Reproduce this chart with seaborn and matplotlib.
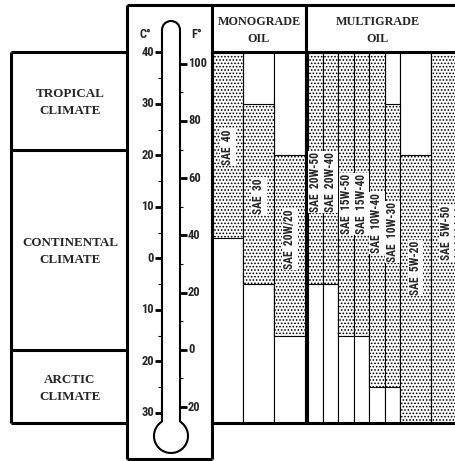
import matplotlib
matplotlib.use("Agg")
import matplotlib.pyplot as plt
import numpy as np
import seaborn as sns
from matplotlib import font_manager
from matplotlib.patches import Arc, Rectangle

# oil grades and their usable ambient temperature range (deg C)
oils = ['SAE  40', 'SAE  30', 'SAE  20W/20',
        'SAE  20W-50', 'SAE  20W-40', 'SAE  15W-50', 'SAE  15W-40',
        'SAE  10W-40', 'SAE  10W-30', 'SAE  5W-20', 'SAE  5W-50']
t_max = [40, 30, 20, 40, 40, 40, 40, 40, 30, 20, 40]
t_min = [4, -5, -15, -5, -5, -15, -15, -25, -25, -32, -32]
groups = ['MONOGRADE\nOIL', 'MULTIGRADE\nOIL']
n_mono = 3

climates = ['TROPICAL\nCLIMATE', 'CONTINENTAL\nCLIMATE', 'ARCTIC\nCLIMATE']
climate_edges = [40, 21.1, -17.8, -32]

c_major = [40, 30, 20, 10, 0, -10, -20, -30]
c_minor = [35, 25, 15, 5, -5, -15, -25]
f_major = [100, 80, 60, 40, 20, 0, -20]
f_minor = [90, 70, 50, 30, 10, -10]

# layout (pixels)
W, H = 456, 461
Y0, K = 258.3, 5.15          # pixel row of 0 C, pixels per degree C
widths = [31, 31, 31, 15.4, 15.4, 15.4, 15.4, 15.4, 15.4, 31, 31]
label_at = [21.6, 12.1, 3.7, 14.8, 14.8, 10.5, 10.5, 6.9, 5.1, -1.9, 4.9]
mono_x0, multi_x0 = 212.5, 307.7


def first_font(names):
    for name in names:
        try:
            font_manager.findfont(font_manager.FontProperties(family=name),
                                  fallback_to_default=False)
            return name
        except ValueError:
            pass
    return 'DejaVu Sans'


sns.set_theme(style='white')
plt.rcParams['hatch.linewidth'] = 0.75
narrow = first_font(['Liberation Sans Narrow', 'DejaVu Sans Condensed',
                     'Roboto Condensed', 'Open Sans Condensed'])
serif = first_font(['Liberation Serif', 'DejaVu Serif'])

fig = plt.figure(figsize=(W / 100, H / 100), dpi=100)
ax = fig.add_axes([0, 0, 1, 1], zorder=1)           # x in px, y in deg C
ax.set_xlim(0, W)
ax.set_ylim((Y0 - H) / K, Y0 / K)
ax.axis('off')
px = fig.add_axes([0, 0, 1, 1], zorder=2)           # x, y in px
px.set_xlim(0, W)
px.set_ylim(H, 0)
px.axis('off')
px.patch.set_alpha(0)

thick = 2.2
thin = 0.8

# bars
lefts = np.concatenate([mono_x0 + np.cumsum([0] + widths[:n_mono - 1]),
                        multi_x0 + np.cumsum([0] + widths[n_mono:-1])])
top, floor = climate_edges[0], climate_edges[-1]
for x, w in zip(lefts, widths):
    ax.add_patch(Rectangle((x, floor), w, top - floor, facecolor='white',
                           edgecolor='black', lw=thin))
ax.bar(lefts, np.subtract(t_max, t_min), width=widths, bottom=t_min,
       align='edge', color='white', edgecolor='black', lw=thin,
       hatch='.....')
for x, w, name, yl in zip(lefts, widths, oils, label_at):
    ax.text(x + w / 2, yl, name, rotation=90, ha='center', va='center',
            fontsize=8.3, family=narrow, fontstretch='condensed',
            weight='bold',
            bbox=dict(facecolor='white', edgecolor='none', pad=0.8))

# climate boxes
ax.hlines(climate_edges, 11, 127, colors='black', lw=thick)
ax.vlines(11, floor, top, colors='black', lw=thick)
for name, hi, lo in zip(climates, climate_edges[:-1], climate_edges[1:]):
    ax.text(70, (hi + lo) / 2 - 0.3, name, ha='center', va='center',
            fontsize=9.4, family=serif, weight='bold', linespacing=1.55)

# thermometer scales
f_to_c = lambda f: (np.asarray(f) - 32) * 5 / 9
ax.hlines(c_major, 155, 162, colors='black', lw=2)
ax.hlines(c_minor, 158.5, 162, colors='black', lw=0.8)
ax.hlines(f_to_c(f_major), 180, 187, colors='black', lw=2)
ax.hlines(f_to_c(f_minor), 180, 183.5, colors='black', lw=0.8)
for c in c_major:
    ax.text(154, c, str(abs(c)), ha='right', va='center', fontsize=9,
            family=narrow, fontstretch='condensed', weight='bold')
for f, c in zip(f_major, f_to_c(f_major)):
    ax.text(188, c, str(abs(f)), ha='left', va='center', fontsize=9,
            family=narrow, fontstretch='condensed', weight='bold')
px.text(145, 35, 'C°', ha='center', va='center', fontsize=9,
        family=narrow, weight='bold')
px.text(197, 35, 'F°', ha='center', va='center', fontsize=9,
        family=narrow, weight='bold')

# thermometer tube and bulb
tube_l, tube_r, tube_top = 162, 180, 30
tube_c = (tube_l + tube_r) / 2
bulb_y, bulb_r = 436, 17
half = np.degrees(np.arcsin((tube_r - tube_l) / 2 / bulb_r))
join = bulb_y - np.sqrt(bulb_r ** 2 - ((tube_r - tube_l) / 2) ** 2)
px.vlines([tube_l, tube_r], tube_top, join, colors='black', lw=1.5)
px.add_patch(Arc((tube_c, tube_top), tube_r - tube_l, tube_r - tube_l,
                 theta1=180, theta2=360, color='black', lw=1.5))
px.add_patch(Arc((tube_c, bulb_y), 2 * bulb_r, 2 * bulb_r,
                 theta1=270 + half, theta2=270 - half, color='black', lw=1.5))

# frames
px.hlines(5, 127, W, colors='black', lw=thick)
px.vlines([127, 212], 5, 459, colors='black', lw=thick)
px.hlines(459, 127, 212, colors='black', lw=thick)
ax.hlines([top, floor], 212, W, colors='black', lw=thick)
ax.vlines(306.3, floor, Y0 / K - 5 / K, colors='black', lw=thick)
ax.vlines(212, floor, top, colors='black', lw=thick)

# group headers
px.text((212 + 306) / 2, 30.5, groups[0], ha='center', va='center',
        fontsize=8.7, family=serif, weight='bold', linespacing=1.5)
px.text((306 + 450) / 2, 30.5, groups[1], ha='center', va='center',
        fontsize=8.7, family=serif, weight='bold', linespacing=1.5)

fig.savefig('out.png', dpi=100)
